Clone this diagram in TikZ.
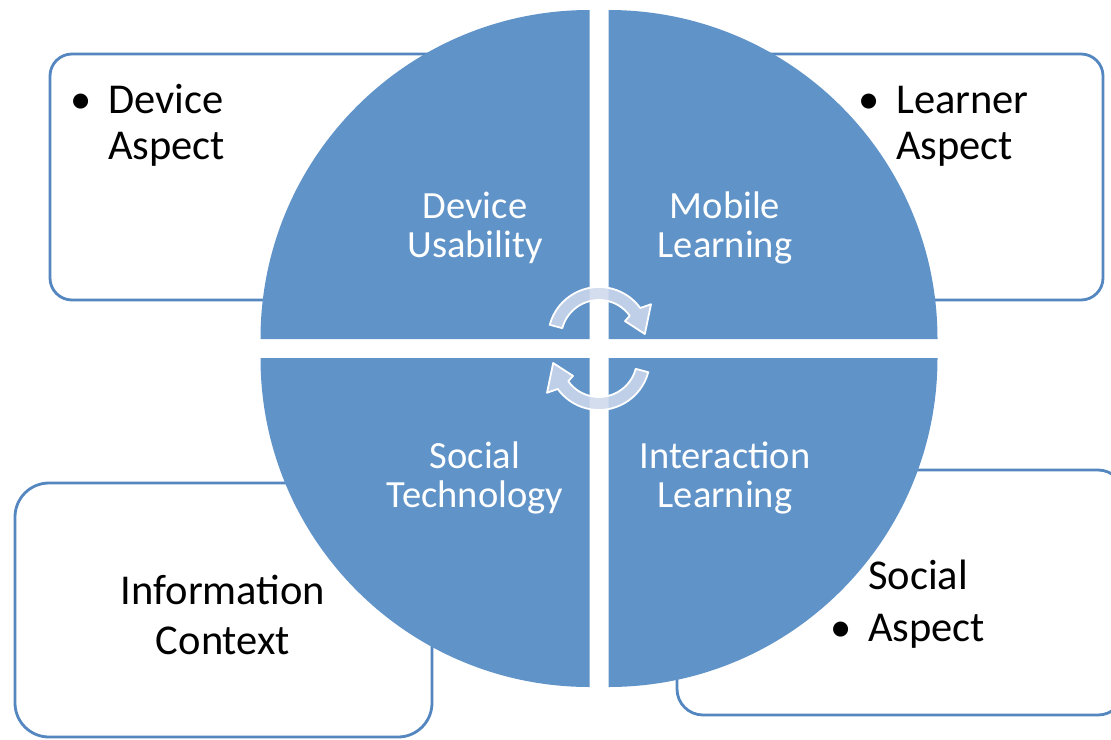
\documentclass[tikz,border=0pt]{standalone}
\usepackage{fontspec}
\setmainfont{Carlito}
\begin{document}
\definecolor{quadblue}{RGB}{96,147,200}
\definecolor{boxline}{RGB}{84,134,192}
\definecolor{cyclefill}{RGB}{205,216,236}
\begin{tikzpicture}[x=1pt,y=-1pt,
  aspectbox/.style={draw=boxline,line width=2.8pt,fill=white},
  quadrant/.style={fill=quadblue,draw=none},
  boxtext/.style={inner sep=0pt,text=black,font=\fontsize{42.5}{46}\selectfont},
  quadtext/.style={inner sep=0pt,text=white,font=\fontsize{38.5}{39.5}\selectfont},
  cyclearrow/.style={fill=cyclefill,fill opacity=0.88,draw=white,line width=1.8pt,line join=round}]
\useasboundingbox (0,0) rectangle (1111,739);

% outer aspect boxes (partly hidden behind the circle)
\draw[aspectbox,rounded corners=22pt] (50,54) rectangle (520,300);
\draw[aspectbox,rounded corners=22pt] (680,54) rectangle (1103,300);
\draw[aspectbox,rounded corners=34pt] (15,483) rectangle (432,737);
\draw[aspectbox,rounded corners=26pt] (677,470) rectangle (1124,715);

% four quadrants of the circle
\fill[quadrant] (589.5,339) -- ++(-329,0) arc[start angle=180,end angle=270,radius=329] -- cycle;
\fill[quadrant] (608.5,339) -- ++(0,-329) arc[start angle=270,end angle=360,radius=329] -- cycle;
\fill[quadrant] (608.5,358) -- ++(329,0) arc[start angle=0,end angle=90,radius=329] -- cycle;
\fill[quadrant] (589.5,358) -- ++(0,329) arc[start angle=90,end angle=180,radius=329] -- cycle;

% quadrant labels
\node[quadtext,anchor=base] (usab) at (475,218)
  {\begin{tabular}[t]{@{}c@{}}Device\\Usability\end{tabular}};
\node[quadtext,anchor=base] (mobile) at (725,218)
  {\begin{tabular}[t]{@{}c@{}}Mobile\\Learning\end{tabular}};
\node[quadtext,anchor=base] (socialtech) at (475,468)
  {\begin{tabular}[t]{@{}c@{}}Social\\Technology\end{tabular}};
\node[quadtext,anchor=base] (interact) at (725,468)
  {\begin{tabular}[t]{@{}c@{}}Interaction\\Learning\end{tabular}};

% cycle arrows in the middle
\begin{scope}[shift={(599,338)}]
  \path[cyclearrow] (-165:51) arc[start angle=-165,end angle=-36,radius=51]
    -- (-33:62) -- (-5:46) -- (-33:31) -- (-36:38)
    arc[start angle=-36,end angle=-165,radius=38] -- cycle;
\end{scope}
\begin{scope}[shift={(599,359)}]
  \path[cyclearrow] (15:51) arc[start angle=15,end angle=144,radius=51]
    -- (147:62) -- (175:46) -- (147:31) -- (144:38)
    arc[start angle=144,end angle=15,radius=38] -- cycle;
\end{scope}

% box texts
\node[boxtext,anchor=base west] (device) at (70,113)
  {\begin{tabular}[t]{@{}p{38pt}@{}l@{}}\textbullet & Device\\ & Aspect\end{tabular}};
\node[boxtext,anchor=base west] (learner) at (858,113)
  {\begin{tabular}[t]{@{}p{38pt}@{}l@{}}\textbullet & Learner\\ & Aspect\end{tabular}};
\node[boxtext,anchor=base] (info) at (223,604)
  {\begin{tabular}[t]{@{}c@{}}Information\\[4pt]Context\end{tabular}};
\node[boxtext,anchor=base west] (social) at (830,589)
  {\begin{tabular}[t]{@{}p{38pt}@{}l@{}} & Social\\[6pt]\textbullet & Aspect\end{tabular}};
\end{tikzpicture}
\end{document}
